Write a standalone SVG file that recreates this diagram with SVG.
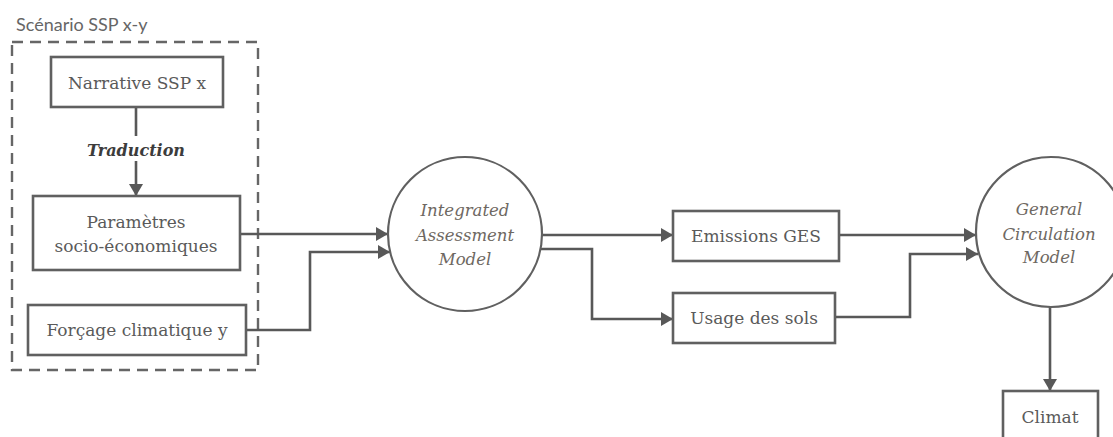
<svg xmlns="http://www.w3.org/2000/svg" width="1113" height="437" viewBox="0 0 1113 437">
<defs>
<marker id="arr" markerUnits="userSpaceOnUse" markerWidth="13" markerHeight="14" refX="12" refY="7" orient="auto">
<path d="M0,0 L12,7 L0,14 Z" fill="#585858"/>
</marker>
<style>
.box{fill:#fff;stroke:#606060;stroke-width:2.6}
.circ{fill:#fff;stroke:#606060;stroke-width:2.2}
.t{font-family:"DejaVu Serif","Liberation Serif",serif;font-size:17px;fill:#5a5a5a;text-anchor:middle}
.it{font-family:"DejaVu Serif","Liberation Serif",serif;font-size:16.5px;font-style:italic;fill:#6e6862;text-anchor:middle}
.con{fill:none;stroke:#585858;stroke-width:2.6}
</style>
</defs>
<rect width="1113" height="437" fill="#fff"/>
<g id="scenario">
<text x="16" y="31" font-family="Lato, Liberation Sans, sans-serif" font-size="18" fill="#666">Scénario SSP x-y</text>
<rect x="12" y="42" width="246" height="328" fill="none" stroke="#666" stroke-width="2.4" stroke-dasharray="11 7"/>
</g>
<g id="connectors">
<line class="con" x1="136" y1="107" x2="136" y2="136"/>
<line class="con" x1="136" y1="161" x2="136" y2="196" marker-end="url(#arr)"/>
<path class="con" d="M240,234 H388" marker-end="url(#arr)"/>
<path class="con" d="M246,330 H310 V252 H390" marker-end="url(#arr)"/>
<path class="con" d="M542,235 H673" marker-end="url(#arr)"/>
<path class="con" d="M541,249 H592 V319 H673" marker-end="url(#arr)"/>
<path class="con" d="M839,235 H976" marker-end="url(#arr)"/>
<path class="con" d="M835,317 H910 V254 H978" marker-end="url(#arr)"/>
<path class="con" d="M1050,307 V391" marker-end="url(#arr)"/>
<text x="136" y="156" font-family="DejaVu Serif, Liberation Serif, serif" font-size="16" font-style="italic" font-weight="bold" fill="#3c3c3c" text-anchor="middle">Traduction</text>
</g>
<g id="narrative">
<rect class="box" x="51" y="57" width="172" height="50"/>
<text class="t" x="137" y="89">Narrative SSP x</text>
</g>
<g id="parametres">
<rect class="box" x="33" y="196" width="207" height="74"/>
<text class="t" x="136" y="228">Paramètres</text>
<text class="t" x="136" y="252">socio-économiques</text>
</g>
<g id="forcage">
<rect class="box" x="28" y="305" width="218" height="50"/>
<text class="t" x="137" y="336">Forçage climatique y</text>
</g>
<g id="iam">
<circle class="circ" cx="465" cy="234" r="77"/>
<text class="it" x="465" y="216">Integrated</text>
<text class="it" x="465" y="241">Assessment</text>
<text class="it" x="465" y="265">Model</text>
</g>
<g id="emissions">
<rect class="box" x="673" y="211" width="166" height="50"/>
<text class="t" x="756" y="242">Emissions GES</text>
</g>
<g id="usage">
<rect class="box" x="673" y="293" width="162" height="50"/>
<text class="t" x="754" y="324">Usage des sols</text>
</g>
<g id="gcm">
<circle class="circ" cx="1051" cy="232" r="75"/>
<text class="it" x="1049" y="215">General</text>
<text class="it" x="1049" y="240">Circulation</text>
<text class="it" x="1049" y="263">Model</text>
</g>
<g id="climat">
<rect class="box" x="1003" y="391" width="95" height="60"/>
<text class="t" x="1050" y="423">Climat</text>
</g>
</svg>
